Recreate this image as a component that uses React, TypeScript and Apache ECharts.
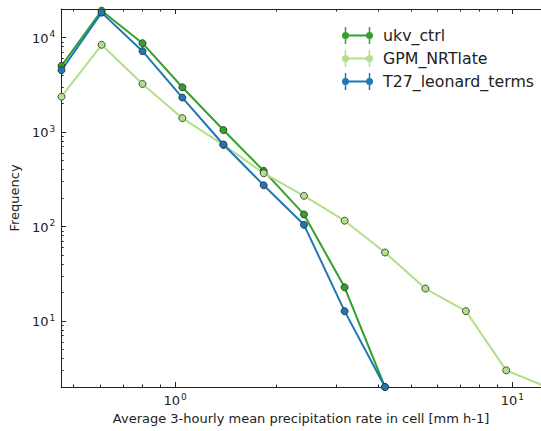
import React, { useEffect, useRef } from "react";
import * as echarts from "echarts";

// Bin centres (mm h-1), equally spaced in log
const X_VALUES = [0.46, 0.605, 0.8, 1.05, 1.39, 1.83, 2.41, 3.18, 4.19, 5.52, 7.28, 9.59, 12.65];
const UKV_CTRL = [5000, 19200, 8700, 2970, 1047, 387, 134, 22.7, 2];
const GPM_NRTLATE = [2360, 8360, 3220, 1400, 730, 366, 211, 115, 53, 22, 12.7, 3, 2];
const T27_LEONARD = [4500, 18300, 7160, 2310, 736, 273, 104, 12.7, 2];

const SERIES_NAMES = ["ukv_ctrl", "GPM_NRTlate", "T27_leonard_terms"];
const SERIES_COLORS = ["#33a02c", "#b2df8a", "#1f78b4"];

const X_MAJOR = [1, 10];
const X_MINOR = [0.5, 0.6, 0.7, 0.8, 0.9, 2, 3, 4, 5, 6, 7, 8, 9];
const Y_MAJOR = [10, 100, 1000, 10000];
const Y_MINOR = [
  2, 3, 4, 5, 6, 7, 8, 9,
  20, 30, 40, 50, 60, 70, 80, 90,
  200, 300, 400, 500, 600, 700, 800, 900,
  2000, 3000, 4000, 5000, 6000, 7000, 8000, 9000,
];

const X_MIN = 0.459;
const X_MAX = 12.16;
const Y_MIN = 2;
const Y_MAX = 20000;

const FONT = "DejaVu Sans";
const TEXT = "#222";
const AXIS = "#222";

const LEGEND_ICON =
  "path://M2.75,0 h1.5 v17 h-1.5 Z M26.75,0 h1.5 v17 h-1.5 Z M3.5,7.5 h24 v2 h-24 Z " +
  "M0,8.5 A3.5,3.5 0 1 1 7,8.5 A3.5,3.5 0 1 1 0,8.5 Z " +
  "M24,8.5 A3.5,3.5 0 1 1 31,8.5 A3.5,3.5 0 1 1 24,8.5 Z";

const powLabel = (v: number) => `{b|10}{s|${Math.round(Math.log10(v))}}`;
const richLabel = {
  b: { fontFamily: FONT, fontSize: 13, color: TEXT, verticalAlign: "bottom" },
  s: { fontFamily: FONT, fontSize: 9, color: TEXT, verticalAlign: "bottom", padding: [0, 0, 6, 1] },
};

function tickAxis(kind: "x" | "y", position: string, values: number[], len: number, extra: any = {}) {
  const isX = kind === "x";
  return {
    type: "log",
    logBase: 10,
    position,
    min: isX ? X_MIN : Y_MIN,
    max: isX ? X_MAX : Y_MAX,
    splitLine: { show: false },
    axisLine: { show: false, onZero: false },
    axisTick: { show: true, inside: true, length: len, customValues: values, lineStyle: { color: AXIS, width: 1 } },
    axisLabel: { show: false },
    ...extra,
  };
}

export default function App() {
  const ref = useRef<HTMLDivElement>(null);
  useEffect(() => {
    if (!ref.current) return;
    const chart = echarts.init(ref.current, null, { renderer: "svg" });
    const mkData = (ys: number[]) => ys.map((y, i) => [X_VALUES[i], y]);
    const datasets = [UKV_CTRL, GPM_NRTLATE, T27_LEONARD];
    chart.setOption({
      animation: false,
      backgroundColor: "#fff",
      grid: { left: 60, top: 9, right: 0, bottom: 44, containLabel: false },
      legend: {
        left: 337,
        top: 22,
        orient: "vertical",
        icon: LEGEND_ICON,
        itemWidth: 31,
        itemHeight: 17,
        itemGap: 6,
        itemStyle: { borderWidth: 0 },
        textStyle: { fontFamily: FONT, fontSize: 15.8, color: TEXT, padding: [0, 0, 0, 5] },
        data: SERIES_NAMES,
      },
      xAxis: [
        tickAxis("x", "bottom", X_MAJOR, 5, {
          axisLine: { show: true, onZero: false, lineStyle: { color: AXIS, width: 1 } },
          axisLabel: {
            show: true,
            customValues: X_MAJOR,
            margin: 5,
            formatter: powLabel,
            rich: richLabel,
          },
          name: "Average 3-hourly mean precipitation rate in cell [mm h-1]",
          nameLocation: "middle",
          nameGap: 24,
          nameTextStyle: { fontFamily: FONT, fontSize: 13, color: TEXT },
        }),
        tickAxis("x", "bottom", X_MINOR, 2.5),
        tickAxis("x", "top", X_MAJOR, 5, {
          axisLine: { show: true, onZero: false, lineStyle: { color: AXIS, width: 1 } },
        }),
        tickAxis("x", "top", X_MINOR, 2.5),
      ],
      yAxis: [
        tickAxis("y", "left", Y_MAJOR, 5, {
          axisLine: { show: true, onZero: false, lineStyle: { color: AXIS, width: 1 } },
          axisLabel: {
            show: true,
            customValues: Y_MAJOR,
            margin: 6,
            formatter: powLabel,
            rich: richLabel,
          },
          name: "Frequency",
          nameLocation: "middle",
          nameGap: 36,
          nameRotate: 90,
          nameTextStyle: { fontFamily: FONT, fontSize: 13, color: TEXT },
        }),
        tickAxis("y", "left", Y_MINOR, 2.5),
      ],
      series: datasets.map((d, i) => ({
        name: SERIES_NAMES[i],
        type: "line",
        xAxisIndex: 0,
        yAxisIndex: 0,
        data: mkData(d),
        symbol: "circle",
        symbolSize: 7,
        clip: true,
        lineStyle: { color: SERIES_COLORS[i], width: 2 },
        itemStyle: { color: SERIES_COLORS[i], borderColor: "rgba(40,40,40,0.8)", borderWidth: 1 },
      })),
    });
    return () => chart.dispose();
  }, []);
  return <div ref={ref} style={{ width: 541, height: 431, position: "absolute", left: 0, top: 0 }} />;
}
